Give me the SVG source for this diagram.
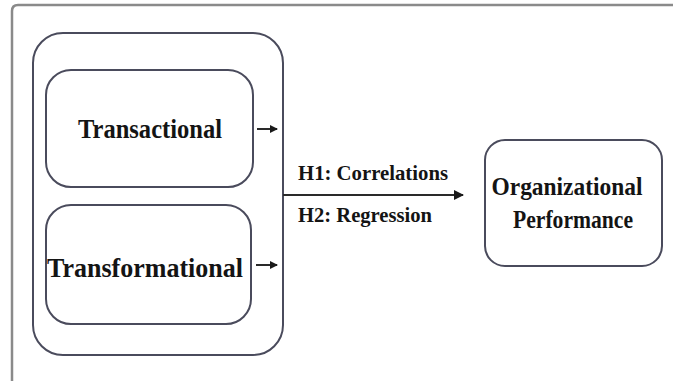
<svg xmlns="http://www.w3.org/2000/svg" width="673" height="381" viewBox="0 0 673 381">
<defs>
<style>
.box{fill:none;stroke:#4a4b5c;stroke-width:2}
.frame{fill:none;stroke:#8a8a8a;stroke-width:2.5}
.lbl{font-family:"Liberation Serif","Times New Roman",serif;font-weight:bold;fill:#141414}
.con{stroke:#2a2a2a;stroke-width:2;fill:none}
</style>
<marker id="ah" markerWidth="10" markerHeight="10" refX="9" refY="5" orient="auto" markerUnits="userSpaceOnUse">
<path d="M0,0 L10,5 L0,10 Z" fill="#1a1a1a"/>
</marker>
<marker id="ahs" markerWidth="8" markerHeight="8" refX="7" refY="4" orient="auto" markerUnits="userSpaceOnUse">
<path d="M0,0 L8,4 L0,8 Z" fill="#1a1a1a"/>
</marker>
</defs>
<rect width="673" height="381" fill="#ffffff"/>
<path class="frame" d="M12,381 L12,11 Q12,5 18,5 L673,5"/>
<g id="leadership-group">
<rect class="box" x="33" y="33" width="250" height="322" rx="30" ry="30"/>
</g>
<g id="transactional">
<rect class="box" x="46" y="70" width="207" height="117" rx="25" ry="25"/>
<text class="lbl" x="150" y="138" font-size="28" text-anchor="middle" textLength="144" lengthAdjust="spacingAndGlyphs">Transactional</text>
</g>
<g id="transformational">
<rect class="box" x="46" y="205" width="205" height="119" rx="25" ry="25"/>
<text class="lbl" x="145" y="277" font-size="28" text-anchor="middle" textLength="196" lengthAdjust="spacingAndGlyphs">Transformational</text>
</g>
<g id="organizational-performance">
<rect class="box" x="485" y="140" width="177" height="126" rx="20" ry="20"/>
<text class="lbl" x="567" y="195" font-size="25" text-anchor="middle" textLength="151" lengthAdjust="spacingAndGlyphs">Organizational</text>
<text class="lbl" x="573" y="228" font-size="25" text-anchor="middle" textLength="120" lengthAdjust="spacingAndGlyphs">Performance</text>
</g>
<g id="connectors">
<line class="con" x1="257" y1="129" x2="277" y2="129" marker-end="url(#ahs)"/>
<line class="con" x1="256" y1="265" x2="277" y2="265" marker-end="url(#ahs)"/>
<line class="con" x1="283" y1="195" x2="463" y2="195" marker-end="url(#ah)"/>
<text class="lbl" x="298" y="180" font-size="22" textLength="150" lengthAdjust="spacingAndGlyphs">H1: Correlations</text>
<text class="lbl" x="298" y="222" font-size="22" textLength="134" lengthAdjust="spacingAndGlyphs">H2: Regression</text>
</g>
</svg>
